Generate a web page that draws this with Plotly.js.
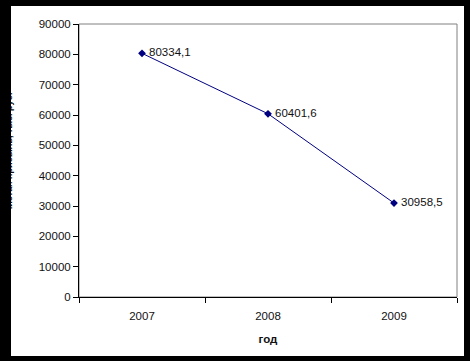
<!DOCTYPE html>
<html>
<head>
<meta charset="utf-8">
<script src="https://cdn.plot.ly/plotly-3.0.1.min.js"></script>
<style>
html,body{margin:0;padding:0;background:#fff;}
#wrap{position:relative;width:470px;height:361px;overflow:hidden;}
#chart{position:absolute;left:0;top:0;width:470px;height:361px;}
#frame{position:absolute;left:0;top:0;width:470px;height:361px;box-sizing:border-box;
  border-style:solid;border-color:#000;border-width:6px 6px 5px 11px;pointer-events:none;z-index:10;}
</style>
</head>
<body>
<div id="wrap">
<div id="chart"></div>
<div id="frame"></div>
</div>
<script>
var years = ['2007', '2008', '2009'];
var values = [80334.1, 60401.6, 30958.5];
var labels = values.map(function(v){ return '\u2009' + v.toFixed(1).replace('.', ','); });
var yTitle = 'Чистая прибыль, тыс. руб.';
var xTitle = 'год';

var font = 'Liberation Sans, Arial, sans-serif';

var trace = {
  x: years,
  y: values,
  type: 'scatter',
  mode: 'lines+markers+text',
  text: labels,
  textposition: 'middle right',
  textfont: {family: font, size: 11.5, color: '#111'},
  line: {color: '#000080', width: 1},
  marker: {symbol: 'diamond', size: 6, color: '#000080'},
  cliponaxis: false,
  hoverinfo: 'none'
};

var layout = {
  width: 470,
  height: 361,
  margin: {l: 79, r: 13, t: 24, b: 64},
  paper_bgcolor: '#fff',
  plot_bgcolor: '#fff',
  showlegend: false,
  font: {family: font, size: 11.5, color: '#111'},
  xaxis: {
    type: 'category',
    range: [-0.5, 2.5],
    tickson: 'boundaries',
    ticks: 'outside',
    ticklen: 5,
    tickcolor: '#000',
    ticklabelstandoff: 8,
    showline: true,
    linecolor: '#000',
    linewidth: 1,
    showgrid: false,
    zeroline: false,
    tickfont: {family: font, size: 11.5, color: '#111'},
    title: {text: xTitle, font: {family: font, size: 11.5, color: '#111', weight: 'bold'}, standoff: 14}
  },
  yaxis: {
    range: [0, 90000],
    dtick: 10000,
    ticks: 'outside',
    ticklen: 5,
    tickcolor: '#000',
    showline: true,
    linecolor: '#000',
    linewidth: 1,
    showgrid: false,
    zeroline: false,
    tickformat: 'd',
    tickfont: {family: font, size: 11.5, color: '#111'}
  },
  annotations: [{
    text: '<b>' + yTitle + '</b>',
    xref: 'paper', yref: 'paper',
    x: (9 - 79) / 378, y: (297 - 153) / 273,
    xanchor: 'center', yanchor: 'middle',
    textangle: -90,
    showarrow: false,
    font: {family: font, size: 9, color: '#111'}
  }],
  shapes: [{
    type: 'rect', xref: 'paper', yref: 'paper', x0: 0, x1: 1, y0: 0, y1: 1,
    line: {color: '#808080', width: 1}, layer: 'below'
  }]
};

Plotly.newPlot('chart', [trace], layout, {displayModeBar: false, staticPlot: true});
</script>
</body>
</html>
